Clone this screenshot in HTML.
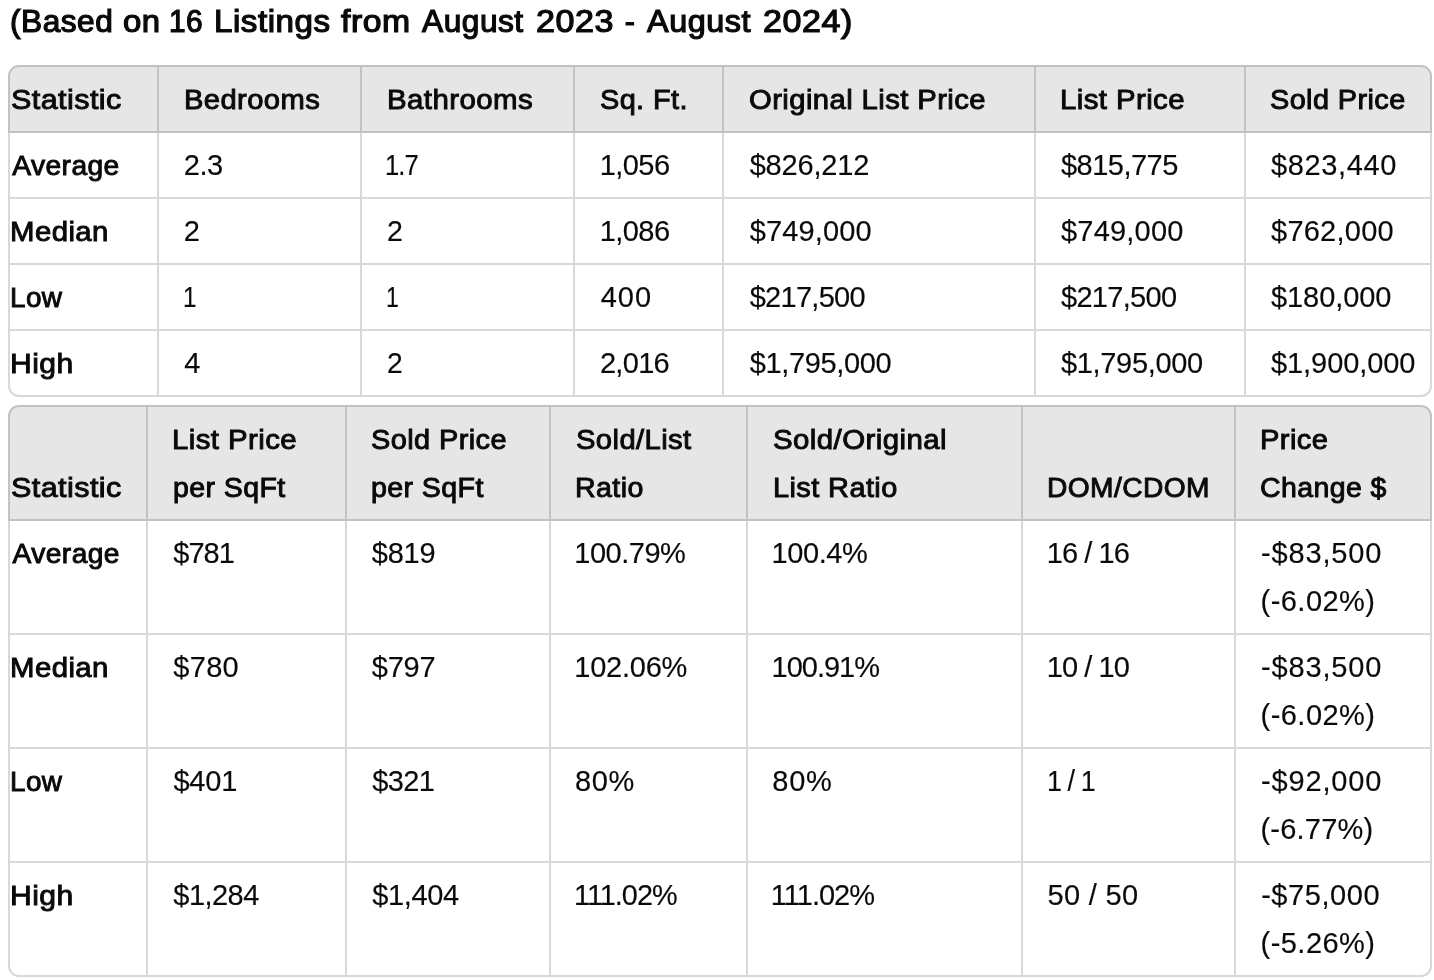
<!DOCTYPE html>
<html lang="en"><head><meta charset="utf-8"><title>Statistics</title><style>
html,body{margin:0;padding:0;background:#fff;}
body{width:1434px;height:980px;overflow:hidden;position:relative;font-family:"Liberation Sans",sans-serif;color:#0a0a0a;}
h3{position:absolute;left:0;top:0;margin:0;font-size:30.5px;line-height:43px;font-weight:normal;-webkit-text-stroke:1.2px #0a0a0a;white-space:nowrap;}
h3 span{position:absolute;top:0;transform-origin:0 50%;}
.t{position:absolute;left:8px;width:1424px;display:grid;font-size:29px;line-height:48px;border:0;border-spacing:0;margin:0;padding:0;}
.t thead,.t tbody,.t tr{display:contents;}
.t1{top:65px;grid-template-columns:151px 203px 213px 149px 312px 210px 186px;}
.t2{top:405px;grid-template-columns:140px 199px 204px 197px 275px 213px 196px;}
.c{-webkit-text-stroke:0.15px #0a0a0a;font-weight:normal;text-align:left;box-sizing:border-box;border-right:2px solid #d8d8d8;border-bottom:2px solid #d8d8d8;padding:8px 0 8px 24px;white-space:nowrap;display:flex;flex-direction:column;justify-content:flex-start;overflow:hidden;}
.c.f{border-left:2px solid #d8d8d8;padding-left:0px;font-size:28.2px;-webkit-text-stroke:0.95px #0a0a0a;}
.c.h{background:#e6e6e6;border-color:#c2c2c2;border-top:2px solid #c2c2c2;font-size:28.2px;-webkit-text-stroke:0.95px #0a0a0a;justify-content:flex-end;}
.c.tl{border-top-left-radius:11px;}
.c.tr{border-top-right-radius:11px;}
.c.bl{border-bottom-left-radius:11px;}
.c.br{border-bottom-right-radius:11px;}
.c span{display:block;height:48px;transform-origin:0 50%;}
</style></head><body>
<h3><span id="hw_0" style="left:9.82px;letter-spacing:0.50px;transform:scaleX(1.037)">(Based</span> <span id="hw_1" style="left:122.66px;letter-spacing:0.50px;transform:scaleX(1.078)">on</span> <span id="hw_2" style="left:169.11px;letter-spacing:0.50px;transform:scaleX(0.979)">16</span> <span id="hw_3" style="left:213.56px;letter-spacing:0.50px;transform:scaleX(1.086)">Listings</span> <span id="hw_4" style="left:340.55px;letter-spacing:0.50px;transform:scaleX(1.106)">from</span> <span id="hw_5" style="left:421.60px;letter-spacing:0.50px;transform:scaleX(1.038)">August</span> <span id="hw_6" style="left:535.78px;letter-spacing:0.50px;transform:scaleX(1.117)">2023</span> <span id="hw_7" style="left:624.67px;letter-spacing:0.50px">-</span> <span id="hw_8" style="left:646.61px;letter-spacing:0.50px;transform:scaleX(1.062)">August</span> <span id="hw_9" style="left:762.91px;letter-spacing:0.50px;transform:scaleX(1.115)">2024)</span></h3>
<table class="t t1">
<thead><tr>
<th class="c h f tl"><span id="t1_h_0_0" style="letter-spacing:0.40px;margin-left:1.04px;transform:scaleX(1.083)">Statistic</span></th>
<th class="c h"><span id="t1_h_1_0" style="letter-spacing:0.40px;margin-left:0.93px;transform:scaleX(1.034)">Bedrooms</span></th>
<th class="c h"><span id="t1_h_2_0" style="letter-spacing:0.40px;margin-left:0.93px;transform:scaleX(1.044)">Bathrooms</span></th>
<th class="c h"><span id="t1_h_3_0" style="letter-spacing:0.40px;margin-left:0.94px;transform:scaleX(1.024)">Sq. Ft.</span></th>
<th class="c h"><span id="t1_h_4_0" style="letter-spacing:0.40px;margin-left:1.00px;transform:scaleX(1.037)">Original List Price</span></th>
<th class="c h"><span id="t1_h_5_0" style="letter-spacing:0.40px;margin-left:-0.49px;transform:scaleX(1.042)">List Price</span></th>
<th class="c h tr"><span id="t1_h_6_0" style="letter-spacing:0.40px;margin-left:0.08px;transform:scaleX(1.024)">Sold Price</span></th>
</tr></thead>
<tbody>
<tr>
<td class="c f"><span id="t1_0_0_0" style="letter-spacing:0.40px;margin-left:2.36px">Average</span></td>
<td class="c"><span id="t1_0_1_0" style="letter-spacing:-0.55px;margin-left:0.81px">2.3</span></td>
<td class="c"><span id="t1_0_2_0" style="letter-spacing:-1.00px;margin-left:-1.24px;transform:scaleX(0.883)">1.7</span></td>
<td class="c"><span id="t1_0_3_0" style="letter-spacing:-0.56px;margin-left:0.70px">1,056</span></td>
<td class="c"><span id="t1_0_4_0" style="letter-spacing:-0.18px;margin-left:1.66px">$826,212</span></td>
<td class="c"><span id="t1_0_5_0" style="letter-spacing:-0.51px;margin-left:0.97px">$815,775</span></td>
<td class="c"><span id="t1_0_6_0" style="letter-spacing:0.63px;margin-left:1.03px">$823,440</span></td>
</tr>
<tr>
<td class="c f"><span id="t1_1_0_0" style="letter-spacing:0.40px;margin-left:0.25px;transform:scaleX(1.042)">Median</span></td>
<td class="c"><span id="t1_1_1_0" style="letter-spacing:0.00px;margin-left:0.72px">2</span></td>
<td class="c"><span id="t1_1_2_0" style="letter-spacing:0.00px;margin-left:0.54px;transform:scaleX(0.982)">2</span></td>
<td class="c"><span id="t1_1_3_0" style="letter-spacing:-0.56px;margin-left:0.70px">1,086</span></td>
<td class="c"><span id="t1_1_4_0" style="letter-spacing:0.13px;margin-left:1.66px">$749,000</span></td>
<td class="c"><span id="t1_1_5_0" style="letter-spacing:0.20px;margin-left:1.03px">$749,000</span></td>
<td class="c"><span id="t1_1_6_0" style="letter-spacing:0.24px;margin-left:1.03px">$762,000</span></td>
</tr>
<tr>
<td class="c f"><span id="t1_2_0_0" style="letter-spacing:0.40px;margin-left:0.20px;transform:scaleX(0.990)">Low</span></td>
<td class="c"><span id="t1_2_1_0" style="letter-spacing:0.00px;margin-left:0.07px;transform:scaleX(0.838)">1</span></td>
<td class="c"><span id="t1_2_2_0" style="letter-spacing:0.00px;margin-left:-0.44px;transform:scaleX(0.795)">1</span></td>
<td class="c"><span id="t1_2_3_0" style="letter-spacing:1.00px;margin-left:1.71px">400</span></td>
<td class="c"><span id="t1_2_4_0" style="letter-spacing:-0.71px;margin-left:1.66px">$217,500</span></td>
<td class="c"><span id="t1_2_5_0" style="letter-spacing:-0.70px;margin-left:1.03px">$217,500</span></td>
<td class="c"><span id="t1_2_6_0" style="letter-spacing:-0.08px;margin-left:1.03px">$180,000</span></td>
</tr>
<tr>
<td class="c f bl"><span id="t1_3_0_0" style="letter-spacing:0.40px;margin-left:0.45px;transform:scaleX(1.067)">High</span></td>
<td class="c"><span id="t1_3_1_0" style="letter-spacing:0.00px;margin-left:1.27px">4</span></td>
<td class="c"><span id="t1_3_2_0" style="letter-spacing:0.00px;margin-left:1.04px;transform:scaleX(0.973)">2</span></td>
<td class="c"><span id="t1_3_3_0" style="letter-spacing:-0.68px;margin-left:0.90px">2,016</span></td>
<td class="c"><span id="t1_3_4_0" style="letter-spacing:-0.34px;margin-left:1.66px">$1,795,000</span></td>
<td class="c"><span id="t1_3_5_0" style="letter-spacing:-0.34px;margin-left:1.03px">$1,795,000</span></td>
<td class="c br"><span id="t1_3_6_0" style="letter-spacing:-0.08px;margin-left:1.03px">$1,900,000</span></td>
</tr>
</tbody></table>
<table class="t t2">
<thead><tr>
<th class="c h f tl"><span id="t2_h_0_0" style="letter-spacing:0.40px;margin-left:1.04px;transform:scaleX(1.083)">Statistic</span></th>
<th class="c h"><span id="t2_h_1_0" style="letter-spacing:0.40px;margin-left:0.05px;transform:scaleX(1.043)">List Price</span><span id="t2_h_1_1" style="letter-spacing:0.40px;margin-left:0.68px;transform:scaleX(1.011)">per SqFt</span></th>
<th class="c h"><span id="t2_h_2_0" style="letter-spacing:0.40px;margin-left:0.28px;transform:scaleX(1.026)">Sold Price</span><span id="t2_h_2_1" style="letter-spacing:0.40px;margin-left:0.14px;transform:scaleX(1.013)">per SqFt</span></th>
<th class="c h"><span id="t2_h_3_0" style="letter-spacing:0.40px;margin-left:1.03px;transform:scaleX(1.035)">Sold/List</span><span id="t2_h_3_1" style="letter-spacing:0.40px;margin-left:0.04px;transform:scaleX(1.014)">Ratio</span></th>
<th class="c h"><span id="t2_h_4_0" style="letter-spacing:0.40px;margin-left:1.08px;transform:scaleX(1.044)">Sold/Original</span><span id="t2_h_4_1" style="letter-spacing:0.40px;margin-left:0.98px;transform:scaleX(1.026)">List Ratio</span></th>
<th class="c h"><span id="t2_h_5_0" style="letter-spacing:0.40px;margin-left:0.00px">DOM/CDOM</span></th>
<th class="c h tr"><span id="t2_h_6_0" style="letter-spacing:0.40px;margin-left:-0.49px;transform:scaleX(1.034)">Price</span><span id="t2_h_6_1" style="letter-spacing:0.40px;margin-left:0.07px;transform:scaleX(1.010)">Change $</span></th>
</tr></thead>
<tbody>
<tr>
<td class="c f"><span id="t2_0_0_0" style="letter-spacing:0.40px;margin-left:2.61px">Average</span></td>
<td class="c"><span id="t2_0_1_0" style="letter-spacing:-1.00px;margin-left:1.30px">$781</span></td>
<td class="c"><span id="t2_0_2_0" style="letter-spacing:-0.25px;margin-left:0.76px">$819</span></td>
<td class="c"><span id="t2_0_3_0" style="letter-spacing:-0.48px;margin-left:-0.74px">100.79%</span></td>
<td class="c"><span id="t2_0_4_0" style="letter-spacing:-0.42px;margin-left:-0.47px">100.4%</span></td>
<td class="c"><span id="t2_0_5_0" style="letter-spacing:-0.92px;margin-left:-0.22px">16 / 16</span></td>
<td class="c"><span id="t2_0_6_0" style="letter-spacing:0.84px;margin-left:1.06px">-$83,500</span><span id="t2_0_6_1" style="letter-spacing:0.45px;margin-left:0.58px">(-6.02%)</span></td>
</tr>
<tr>
<td class="c f"><span id="t2_1_0_0" style="letter-spacing:0.40px;margin-left:0.25px;transform:scaleX(1.042)">Median</span></td>
<td class="c"><span id="t2_1_1_0" style="letter-spacing:0.29px;margin-left:1.30px">$780</span></td>
<td class="c"><span id="t2_1_2_0" style="letter-spacing:-0.22px;margin-left:0.76px">$797</span></td>
<td class="c"><span id="t2_1_3_0" style="letter-spacing:-0.23px;margin-left:-0.74px">102.06%</span></td>
<td class="c"><span id="t2_1_4_0" style="letter-spacing:-1.00px;margin-left:-0.47px">100.91%</span></td>
<td class="c"><span id="t2_1_5_0" style="letter-spacing:-0.93px;margin-left:-0.21px">10 / 10</span></td>
<td class="c"><span id="t2_1_6_0" style="letter-spacing:0.84px;margin-left:1.06px">-$83,500</span><span id="t2_1_6_1" style="letter-spacing:0.45px;margin-left:0.58px">(-6.02%)</span></td>
</tr>
<tr>
<td class="c f"><span id="t2_2_0_0" style="letter-spacing:0.40px;margin-left:0.20px;transform:scaleX(0.990)">Low</span></td>
<td class="c"><span id="t2_2_1_0" style="letter-spacing:-0.15px;margin-left:1.39px">$401</span></td>
<td class="c"><span id="t2_2_2_0" style="letter-spacing:-0.67px;margin-left:1.30px">$321</span></td>
<td class="c"><span id="t2_2_3_0" style="letter-spacing:0.66px;margin-left:0.00px">80%</span></td>
<td class="c"><span id="t2_2_4_0" style="letter-spacing:0.68px;margin-left:0.35px">80%</span></td>
<td class="c"><span id="t2_2_5_0" style="letter-spacing:-1.00px;margin-left:0.37px;transform:scaleX(0.927)">1 / 1</span></td>
<td class="c"><span id="t2_2_6_0" style="letter-spacing:0.84px;margin-left:1.06px">-$92,000</span><span id="t2_2_6_1" style="letter-spacing:0.21px;margin-left:0.48px">(-6.77%)</span></td>
</tr>
<tr>
<td class="c f bl"><span id="t2_3_0_0" style="letter-spacing:0.40px;margin-left:0.20px;transform:scaleX(1.067)">High</span></td>
<td class="c"><span id="t2_3_1_0" style="letter-spacing:-0.54px;margin-left:1.30px">$1,284</span></td>
<td class="c"><span id="t2_3_2_0" style="letter-spacing:-0.39px;margin-left:1.29px">$1,404</span></td>
<td class="c"><span id="t2_3_3_0" style="letter-spacing:-1.00px;margin-left:-0.74px;transform:scaleX(0.994)">111.02%</span></td>
<td class="c"><span id="t2_3_4_0" style="letter-spacing:-1.00px;margin-left:-1.19px">111.02%</span></td>
<td class="c"><span id="t2_3_5_0" style="letter-spacing:0.32px;margin-left:0.60px">50 / 50</span></td>
<td class="c br"><span id="t2_3_6_0" style="letter-spacing:0.58px;margin-left:1.13px">-$75,000</span><span id="t2_3_6_1" style="letter-spacing:0.45px;margin-left:0.58px">(-5.26%)</span></td>
</tr>
</tbody></table>
</body></html>
